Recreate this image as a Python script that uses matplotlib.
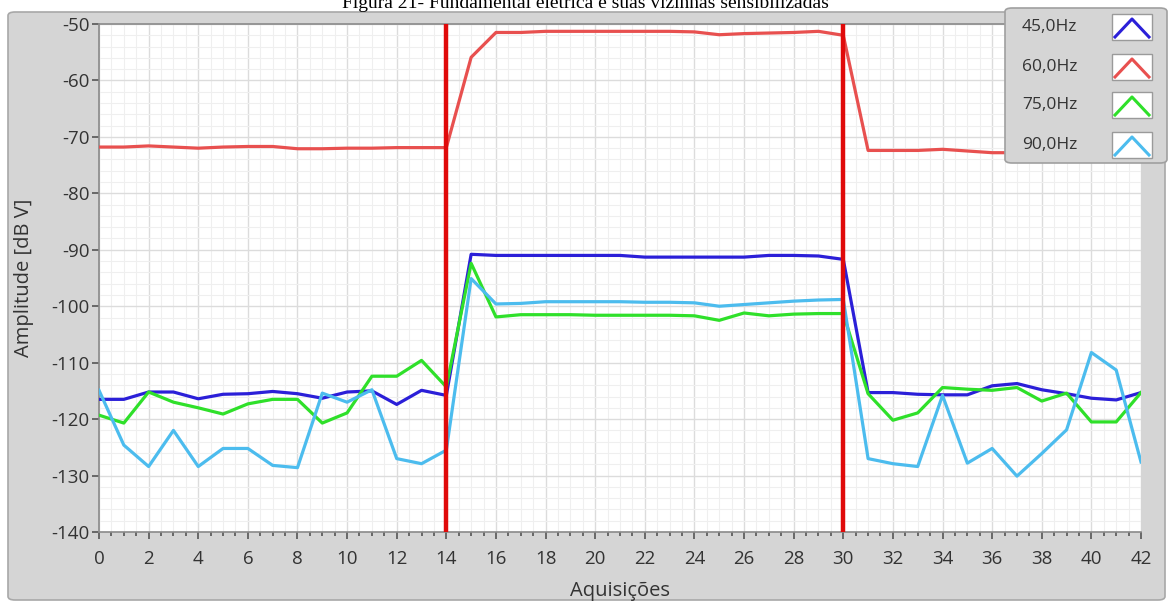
import matplotlib
matplotlib.use("Agg")
import matplotlib.pyplot as plt
from matplotlib.patches import FancyBboxPatch, Rectangle
from matplotlib.lines import Line2D
from matplotlib.ticker import MultipleLocator
import numpy as np

plt.rcParams["axes.unicode_minus"] = False

# ---------------- data ----------------
x_values = list(range(0, 43))

amp_45hz = [-116.5, -116.5, -115.2, -115.2, -116.4, -115.6, -115.5, -115.1, -115.5, -116.3,
            -115.2, -115.0, -117.4, -114.9, -115.8,
            -90.8, -91.0, -91.0, -91.0, -91.0, -91.0, -91.0, -91.3, -91.3, -91.3,
            -91.3, -91.3, -91.0, -91.0, -91.1, -91.7,
            -115.3, -115.3, -115.6, -115.7, -115.7, -114.1, -113.7, -114.8, -115.5, -116.3,
            -116.6, -115.3]

amp_60hz = [-71.8, -71.8, -71.6, -71.8, -72.0, -71.8, -71.7, -71.7, -72.1, -72.1,
            -72.0, -72.0, -71.9, -71.9, -71.9,
            -55.9, -51.5, -51.5, -51.3, -51.3, -51.3, -51.3, -51.3, -51.3, -51.4,
            -51.9, -51.7, -51.6, -51.5, -51.3, -52.0,
            -72.4, -72.4, -72.4, -72.2, -72.5, -72.8, -72.8, -72.8, -72.8, -72.8,
            -72.8, -72.8]

amp_75hz = [-119.3, -120.7, -115.2, -117.0, -118.0, -119.1, -117.3, -116.5, -116.5, -120.7,
            -118.9, -112.4, -112.4, -109.6, -114.3,
            -92.4, -101.9, -101.5, -101.5, -101.5, -101.6, -101.6, -101.6, -101.6, -101.7,
            -102.5, -101.2, -101.7, -101.4, -101.3, -101.3,
            -115.5, -120.2, -118.9, -114.4, -114.7, -114.9, -114.4, -116.8, -115.4, -120.5,
            -120.5, -115.3]

amp_90hz = [-114.9, -124.6, -128.4, -122.0, -128.4, -125.2, -125.2, -128.2, -128.6, -115.4,
            -117.0, -114.8, -127.0, -127.9, -125.5,
            -95.1, -99.6, -99.5, -99.2, -99.2, -99.2, -99.2, -99.3, -99.3, -99.4,
            -100.0, -99.7, -99.4, -99.1, -98.9, -98.8,
            -127.0, -127.9, -128.4, -115.8, -127.8, -125.2, -130.1, -126.1, -121.9, -108.2,
            -111.3, -127.6]

series_labels = ["45,0Hz", "60,0Hz", "75,0Hz", "90,0Hz"]
series_colors = ["#2b1fd8", "#e8504f", "#2fe02a", "#4cbcee"]
marker_lines = [14, 30]

x_ticks = list(range(0, 43, 2))
y_ticks = list(range(-140, -49, 10))

# ---------------- figure ----------------
W, H = 1171, 604
fig = plt.figure(figsize=(W / 100, H / 100), dpi=100)
fig.patch.set_facecolor("white")

def fx(px):
    return px / W

def fy(py):
    return 1 - py / H

# gray panel
panel = FancyBboxPatch((fx(8), fy(600)), fx(1165) - fx(8), fy(12) - fy(600),
                       boxstyle="round,pad=0,rounding_size=0.006",
                       transform=fig.transFigure, facecolor="#d5d5d5",
                       edgecolor="#a8a8a8", linewidth=1.2, zorder=-5)
fig.patches.append(panel)

# title (partially cut at the top, as in the reference)
fig.text(0.5, fy(8), "Figura 21- Fundamental elétrica e suas vizinhas sensibilizadas",
         ha="center", va="baseline", fontsize=14, family="Liberation Serif",
         color="black", zorder=-4)

ax = fig.add_axes([fx(99), fy(532), fx(1141) - fx(99), fy(24) - fy(532)])
ax.set_zorder(1)
ax.set_facecolor("white")

all_series = [amp_45hz, amp_60hz, amp_75hz, amp_90hz]
for vals, col, lab in zip(all_series, series_colors, series_labels):
    ax.plot(x_values, vals, color=col, linewidth=2.3, label=lab, zorder=3,
            solid_joinstyle="round")

for xv in marker_lines:
    ax.axvline(xv, color="#e00a0a", linewidth=3.2, zorder=4)

ax.set_xlim(0, 42)
ax.set_ylim(-140, -50)
ax.set_xticks(x_ticks)
ax.set_yticks(y_ticks)
ax.xaxis.set_minor_locator(MultipleLocator(0.5))
ax.yaxis.set_minor_locator(MultipleLocator(2))

ax.grid(which="major", color="#dcdcdc", linewidth=1.0, zorder=0)
ax.grid(which="minor", color="#efefef", linewidth=0.8, zorder=0)
ax.set_axisbelow(True)

font = "Open Sans"
ax.tick_params(axis="both", which="major", labelsize=13.5, colors="#555555",
               labelcolor="#333333", length=5, width=1.2, direction="out")
ax.tick_params(axis="x", which="major", pad=8)
ax.tick_params(axis="y", which="major", pad=2)
ax.tick_params(axis="x", which="minor", length=3, width=1.2, colors="#555555")
ax.tick_params(axis="y", which="minor", length=0)
for lbl in ax.get_xticklabels() + ax.get_yticklabels():
    lbl.set_family(font)

for side in ["left", "bottom", "top"]:
    ax.spines[side].set_color("#8a8a8a")
    ax.spines[side].set_linewidth(1.2)
ax.spines["right"].set_visible(False)

ax.set_xlabel("Aquisições", fontsize=14.5, family=font, color="#333333", labelpad=9)
ax.set_ylabel("Amplitude [dB V]", fontsize=14.5, family=font, color="#333333", labelpad=12)

# legend box (drawn as a panel on top of the plot)
leg = FancyBboxPatch((fx(1005), fy(163)), fx(1167) - fx(1005), fy(8) - fy(163),
                     boxstyle="round,pad=0,rounding_size=0.006",
                     transform=fig.transFigure, facecolor="#d5d5d5",
                     edgecolor="#a0a0a0", linewidth=1.2, zorder=10)
fig.patches.append(leg)
rows_y = [27, 67, 105, 145]
for ry, lab, col in zip(rows_y, series_labels, series_colors):
    fig.text(fx(1022), fy(ry), lab, ha="left", va="center", fontsize=12.5,
             family=font, color="#333333", zorder=11)
    box = Rectangle((fx(1112), fy(ry + 13)), fx(1152) - fx(1112), fy(ry - 13) - fy(ry + 13),
                    transform=fig.transFigure, facecolor="white",
                    edgecolor="#9a9a9a", linewidth=1.0, zorder=11)
    fig.patches.append(box)
    icon = Line2D([fx(1115), fx(1132), fx(1149)], [fy(ry + 10), fy(ry - 8), fy(ry + 10)],
                  transform=fig.transFigure, color=col, linewidth=2.2, zorder=12)
    fig.lines.append(icon)

fig.savefig("out.png", dpi=100, facecolor=fig.get_facecolor())
